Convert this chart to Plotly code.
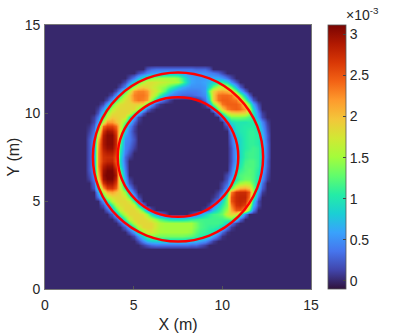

import plotly.graph_objects as go

# ── Data (values in units of 1e-3) ───────────────────────────────────────────

STEP = 0.25
X_M = [i * STEP for i in range(61)]
Y_M = [i * STEP for i in range(61)]
BACKGROUND = 0

# y (m) -> runs of (first x in m, cell values); every other cell is background
RING_SPANS = {
    12.5: [(5.75, [.2, .3, .35, .35, .35, .35, .35, .35, .35, .35, .35, .3, .3, .3, .2])],
    12.25: [(5.25, [.15, .3, .45, .55, .6, .65, .7, .7, .7, .7, .6, .5, .5, .5, .5, .5, .45, .4, .3, .15])],
    12: [(4.75, [.15, .4, .7, 1.0, 1.2, 1.35, 1.45, 1.5, 1.5, 1.5, 1.5, 1.4, 1.15, .8, .6, .55, .55, .55, .6, .65, .65, .55, .35, .15])],
    11.75: [(4.5, [.15, .45, .85, 1.2, 1.55, 1.75, 1.8, 1.75, 1.7, 1.65, 1.6, 1.55, 1.5, 1.25, .85, .6, .55, .55, .6, .7, .85, 1.0, 1.1, .9, .5, .2])],
    11.5: [(4.25, [.15, .45, 1.0, 1.5, 1.85, 1.95, 1.85, 1.75, 1.65, 1.5, 1.4, 1.2, 1.0, .8, .65, .55, .5, .5, .5, .55, .9, 1.3, 1.6, 1.7, 1.65, 1.3, .7, .25])],
    11.25: [(4, [.15, .5, 1.1, 1.6, 2.2, 2.3, 2.3, 2.2, 1.85, 1.7, 1.5, 1.2, .85, .6, .5, .45, .4, .4, .4, .45, .55, 1.3, 1.85, 2.1, 2.15, 2.05, 1.85, 1.3, .7, .25])],
    11: [(3.75, [.15, .5, 1.1, 1.55, 1.9, 2.3, 2.35, 2.35, 2.25, 1.8, 1.5, 1.1, .75, .5, .4, .35, .3, .3, .3, .35, .4, .5, 1.1, 1.9, 2.35, 2.4, 2.4, 2.35, 2.0, 1.4, .75, .25])],
    10.75: [(3.5, [.15, .55, 1.1, 1.5, 1.8, 1.9, 2.25, 2.35, 2.3, 2.2, 1.5, .9, .5, .25, .1]),
            (8.75, [.1, .35, .9, 1.9, 2.35, 2.45, 2.45, 2.4, 2.35, 2.0, 1.3, .7, .2])],
    10.5: [(3.25, [.15, .55, 1.15, 1.6, 1.8, 1.85, 1.85, 1.9, 1.9, 1.85, 1.1, .6, .2, .05]),
           (9, [.1, .5, 1.3, 1.9, 2.35, 2.45, 2.45, 2.45, 2.35, 1.9, 1.3, .6, .15])],
    10.25: [(3, [.1, .5, 1.05, 1.6, 1.8, 1.85, 1.85, 1.85, 1.85, 1.5, .8, .3, .1]),
            (9.5, [.5, 1.3, 1.9, 2.3, 2.4, 2.45, 2.4, 2.2, 1.7, .9, .3])],
    10: [(3, [.2, .8, 1.45, 1.8, 1.85, 1.85, 1.85, 1.8, 1.2, .7, .2]),
         (9.75, [.5, 1.1, 1.6, 1.85, 1.9, 1.9, 1.85, 1.5, 1.0, .45, .1])],
    9.75: [(2.75, [.1, .4, 1.1, 1.7, 1.95, 1.9, 1.85, 1.8, 1.1, .6, .15]),
           (10, [.5, 1.05, 1.35, 1.35, 1.35, 1.3, 1.2, 1.0, .55, .15])],
    9.5: [(2.75, [.15, .6, 1.6, 2.2, 2.2, 2.0, 1.85, 1.3, .8, .3, .05]),
          (10.25, [.5, .9, 1.0, 1.0, 1.0, 1.05, 1.05, .85, .45, .1])],
    9.25: [(2.5, [.05, .25, .9, 2.4, 2.6, 2.6, 2.4, 1.8, 1.0, .5, .15]),
           (10.25, [.2, .7, .95, 1.0, 1.05, 1.05, 1.05, .95, .55, .15])],
    9: [(2.5, [.1, .35, 1.4, 2.7, 2.95, 2.9, 2.6, 1.7, .8, .4, .1]),
        (10.5, [.5, .9, 1.0, 1.05, 1.1, 1.1, 1.0, .65, .2])],
    8.75: [(2.5, [.15, .4, 1.7, 2.85, 3.05, 3.05, 2.7, 1.5, .6, .4, .15]),
           (10.5, [.35, .8, .95, 1.05, 1.1, 1.1, 1.05, .7, .25])],
    8.5: [(2.5, [.2, .45, 2.0, 2.9, 3.05, 3.05, 2.75, 1.3, .5, .4, .2]),
          (10.5, [.3, .7, .9, 1.05, 1.1, 1.1, 1.05, .75, .25])],
    8.25: [(2.5, [.2, .5, 2.15, 2.9, 3.05, 3.05, 2.75, 1.2, .45, .35, .15]),
           (10.5, [.25, .65, .9, 1.05, 1.1, 1.1, 1.05, .8, .3])],
    8: [(2.5, [.2, .5, 2.2, 2.85, 3.0, 3.0, 2.7, 1.1, .45, .3, .1]),
        (10.5, [.2, .6, .9, 1.05, 1.1, 1.15, 1.1, .8, .3])],
    7.75: [(2.5, [.2, .5, 2.25, 2.75, 2.85, 2.85, 2.6, 1.0, .4, .2]),
           (10.5, [.2, .6, .9, 1.1, 1.15, 1.15, 1.1, .8, .3])],
    7.5: [(2.5, [.2, .5, 2.25, 2.7, 2.75, 2.75, 2.5, .95, .3, .1]),
          (10.5, [.2, .6, .9, 1.1, 1.15, 1.15, 1.1, .8, .3])],
    7.25: [(2.5, [.2, .5, 2.25, 2.7, 2.8, 2.8, 2.45, .9, .3]),
           (10.5, [.2, .6, .95, 1.15, 1.2, 1.2, 1.1, .75, .25])],
    7: [(2.5, [.2, .5, 2.25, 2.85, 3.0, 3.0, 2.6, 1.0, .35]),
        (10.5, [.25, .7, 1.0, 1.2, 1.2, 1.2, 1.1, .7, .25])],
    6.75: [(2.5, [.2, .5, 2.15, 2.95, 3.1, 3.1, 2.8, 1.2, .4]),
           (10.5, [.3, .85, 1.1, 1.2, 1.25, 1.2, 1.05, .65, .2])],
    6.5: [(2.5, [.15, .45, 2.0, 3.0, 3.15, 3.15, 2.9, 1.4, .5]),
          (10.25, [.15, .4, 1.0, 1.2, 1.25, 1.25, 1.2, 1.0, .55, .15])],
    6.25: [(2.5, [.1, .4, 1.8, 2.95, 3.1, 3.1, 2.8, 1.5, .6, .1]),
           (10.25, [.2, .6, 1.0, 1.2, 1.3, 1.3, 1.2, 1.0, .5, .1])],
    6: [(2.75, [.3, 1.5, 2.7, 2.95, 2.95, 2.65, 1.6, .7, .2]),
        (10, [.1, .3, .85, 1.25, 1.5, 1.6, 1.55, 1.25, .95, .35])],
    5.75: [(2.75, [.2, 1.05, 2.2, 2.65, 2.7, 2.45, 1.75, .95, .45, .1]),
           (10, [.15, .5, 1.2, 1.8, 2.05, 2.1, 1.95, 1.4, .8, .25])],
    5.5: [(3, [.65, 1.55, 2.05, 2.15, 2.0, 1.85, 1.45, .8, .3]),
          (9.75, [.1, .3, .9, 2.3, 2.7, 2.75, 2.75, 2.5, 1.5, .6, .1])],
    5.25: [(3, [.35, 1.0, 1.6, 1.8, 1.85, 1.85, 1.75, 1.3, .6, .15]),
           (9.5, [.05, .2, .6, 1.3, 2.5, 2.75, 2.8, 2.8, 2.4, 1.3, .35])],
    5: [(3.25, [.5, 1.05, 1.6, 1.8, 1.85, 1.85, 1.75, 1.1, .4]),
        (9.5, [.15, .4, .85, 1.35, 2.5, 2.75, 2.8, 2.75, 2.2, .9, .15])],
    4.75: [(3.25, [.2, .6, 1.1, 1.6, 1.8, 1.85, 1.85, 1.7, 1.0, .35]),
           (9.25, [.1, .35, .7, 1.05, 1.35, 2.3, 2.7, 2.75, 2.6, 1.8, .7, .15])],
    4.5: [(3.5, [.25, .65, 1.15, 1.65, 1.85, 1.85, 1.85, 1.75, 1.2, .55, .15]),
          (9, [.1, .3, .7, 1.0, 1.2, 1.5, 2.1, 2.5, 2.5, 2.2, 1.3, .4])],
    4.25: [(3.75, [.25, .65, 1.2, 1.65, 1.85, 1.85, 1.85, 1.8, 1.45, .95, .55, .3, .15]),
           (8.25, [.1, .25, .55, .85, 1.05, 1.15, 1.2, 1.3, 1.7, 1.9, 1.8, 1.2, .4])],
    4: [(4, [.2, .6, 1.15, 1.65, 1.85, 1.85, 1.85, 1.8, 1.65, 1.4, 1.2, 1.05, .95, .9, .9, .9, .95, 1.05, 1.1, 1.15, 1.15, 1.15, 1.15, 1.15, 1.15, 1.2, 1.3, .9, .3])],
    3.75: [(4.25, [.2, .6, 1.15, 1.6, 1.85, 1.85, 1.85, 1.85, 1.7, 1.55, 1.5, 1.5, 1.5, 1.5, 1.5, 1.5, 1.5, 1.35, 1.2, 1.15, 1.15, 1.15, 1.15, 1.1, .85, .4, .1])],
    3.5: [(4.5, [.25, .6, 1.1, 1.6, 1.85, 1.85, 1.85, 1.7, 1.55, 1.5, 1.5, 1.5, 1.5, 1.5, 1.5, 1.5, 1.35, 1.2, 1.15, 1.1, 1.1, 1.05, .8, .4, .1])],
    3.25: [(4.75, [.2, .55, 1.05, 1.5, 1.75, 1.75, 1.6, 1.5, 1.5, 1.5, 1.5, 1.5, 1.5, 1.5, 1.45, 1.25, 1.15, 1.1, 1.05, .95, .65, .3, .05])],
    3: [(5, [.15, .5, .9, 1.2, 1.35, 1.35, 1.35, 1.35, 1.35, 1.35, 1.35, 1.35, 1.3, 1.25, 1.15, 1.05, 1.0, .85, .6, .3, .05])],
    2.75: [(5.25, [.15, .45, .7, .8, .85, .85, .85, .85, .85, .85, .85, .8, .75, .7, .6, .5, .3, .1])],
    2.5: [(5.5, [.1, .2, .3, .35, .35, .35, .35, .35, .35, .35, .35, .3, .3, .2, .1])],
}

CBAR_TICKS = [0, 0.5, 1, 1.5, 2, 2.5, 3]
CBAR_LABELS = ["0", "0.5", "1", "1.5", "2", "2.5", "3"]
AXIS_TICKS = [0, 5, 10, 15]

CENTER = 7.5
R_OUTER = 4.8
R_INNER = 3.4

# ── Grid ─────────────────────────────────────────────────────────────────────

z = [[BACKGROUND] * len(X_M) for _ in Y_M]
for y_m, spans in RING_SPANS.items():
    row = z[round(y_m / STEP)]
    for x_start, values in spans:
        first = round(x_start / STEP)
        row[first:first + len(values)] = values

TEXT = "#262626"
FONT = "Liberation Sans"

fig = go.Figure(go.Heatmap(
    x=X_M,
    y=Y_M,
    z=z,
    zmin=-0.1,
    zmax=3.115,
    zsmooth="best",
    colorscale="Turbo",
    hoverinfo="skip",
    colorbar=dict(
        x=1.064,
        xanchor="left",
        y=0,
        yanchor="bottom",
        len=1,
        thicknessmode="pixels",
        thickness=17.5,
        xpad=0,
        ypad=0,
        outlinewidth=0.8,
        outlinecolor="#555555",
        ticks="inside",
        ticklen=3,
        tickcolor="#444444",
        tickwidth=0.8,
        tickvals=CBAR_TICKS,
        ticktext=CBAR_LABELS,
        tickfont=dict(family=FONT, size=14, color=TEXT),
    ),
))

for radius in (R_OUTER, R_INNER):
    fig.add_shape(
        type="circle",
        xref="x",
        yref="y",
        x0=CENTER - radius,
        x1=CENTER + radius,
        y0=CENTER - radius,
        y1=CENTER + radius,
        line=dict(color="#FF0000", width=2.5),
    )

axis_style = dict(
    range=[0, 15],
    tickvals=AXIS_TICKS,
    ticks="inside",
    ticklen=3,
    tickwidth=0.8,
    tickcolor="#555555",
    showgrid=False,
    zeroline=False,
    showline=True,
    mirror=True,
    linecolor="#777777",
    linewidth=0.8,
    automargin=False,
    tickfont=dict(family=FONT, size=14, color=TEXT),
)

fig.update_layout(
    width=399,
    height=335,
    margin=dict(l=44.5, r=87.5, t=24.5, b=45.5, autoexpand=False),
    paper_bgcolor="white",
    plot_bgcolor="white",
    xaxis=dict(axis_style, ticklabelstandoff=3,
               title=dict(text="X (m)", standoff=7, font=dict(family=FONT, size=16, color=TEXT))),
    yaxis=dict(axis_style, ticklabelstandoff=1,
               title=dict(text="Y (m)", standoff=1, font=dict(family=FONT, size=16, color=TEXT))),
    annotations=[dict(
        text="×10<sup>-3</sup>",
        xref="paper",
        yref="paper",
        x=1.124,
        y=1.0,
        xanchor="left",
        yanchor="bottom",
        showarrow=False,
        font=dict(family=FONT, size=14, color=TEXT),
    )],
)

fig.write_html(
    "out.html",
    config={"displayModeBar": False},
    post_script="document.body.style.margin = '0';",
)
